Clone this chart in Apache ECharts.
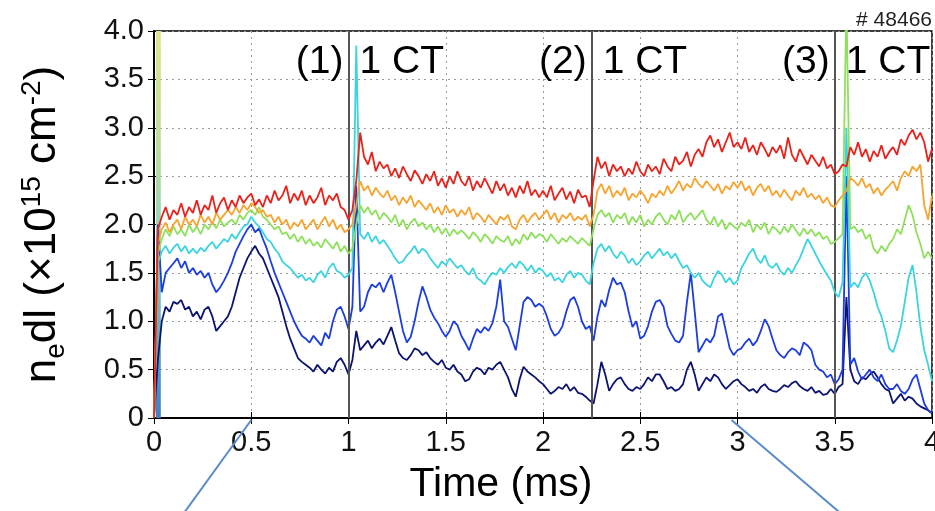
<!DOCTYPE html>
<html><head><meta charset="utf-8">
<script src="https://cdn.jsdelivr.net/npm/echarts@6/dist/echarts.min.js"></script>
<style>html,body{margin:0;padding:0;background:#fff}#c{width:935px;height:511px}</style>
</head><body><div id="c"></div>
<script>
// ---- data ----
const xTicks = [0, 0.5, 1, 1.5, 2, 2.5, 3, 3.5, 4];
const yTicks = [0, 0.5, 1.0, 1.5, 2.0, 2.5, 3.0, 3.5, 4.0];
const shotLabel = '# 48466';
const eventTimes = [1.0, 2.25, 3.5];
const eventNums = ['(1)', '(2)', '(3)'];
const eventText = '1 CT';
const startBand = [0.01, 0.035];
const seriesNames = ['ch1', 'ch2', 'ch3', 'ch4', 'ch5', 'ch6'];

const time = [
0,0.02,0.04,0.06,0.08,0.1,0.12,0.14,0.16,0.18,
0.2,0.22,0.24,0.26,0.28,0.3,0.32,0.34,0.36,0.38,
0.4,0.42,0.44,0.46,0.48,0.5,0.52,0.54,0.56,0.58,
0.6,0.62,0.64,0.66,0.68,0.7,0.72,0.74,0.76,0.78,
0.8,0.82,0.84,0.86,0.88,0.9,0.92,0.94,0.96,0.98,
1,1.02,1.04,1.06,1.08,1.1,1.12,1.14,1.16,1.18,
1.2,1.22,1.24,1.26,1.28,1.3,1.32,1.34,1.36,1.38,
1.4,1.42,1.44,1.46,1.48,1.5,1.52,1.54,1.56,1.58,
1.6,1.62,1.64,1.66,1.68,1.7,1.72,1.74,1.76,1.78,
1.8,1.82,1.84,1.86,1.88,1.9,1.92,1.94,1.96,1.98,
2,2.02,2.04,2.06,2.08,2.1,2.12,2.14,2.16,2.18,
2.2,2.22,2.24,2.26,2.28,2.3,2.32,2.34,2.36,2.38,
2.4,2.42,2.44,2.46,2.48,2.5,2.52,2.54,2.56,2.58,
2.6,2.62,2.64,2.66,2.68,2.7,2.72,2.74,2.76,2.78,
2.8,2.82,2.84,2.86,2.88,2.9,2.92,2.94,2.96,2.98,
3,3.02,3.04,3.06,3.08,3.1,3.12,3.14,3.16,3.18,
3.2,3.22,3.24,3.26,3.28,3.3,3.32,3.34,3.36,3.38,
3.4,3.42,3.44,3.46,3.48,3.5,3.52,3.54,3.56,3.58,
3.6,3.62,3.64,3.66,3.68,3.7,3.72,3.74,3.76,3.78,
3.8,3.82,3.84,3.86,3.88,3.9,3.92,3.94,3.96,3.98,
4
];

const navy = [
0.0,0.6,1.0,1.15,1.1,1.2,1.18,1.22,1.12,1.15,
1.05,1.1,1.02,1.12,1.15,1.05,0.9,0.95,1.0,1.05,
1.15,1.3,1.45,1.55,1.65,1.72,1.78,1.7,1.65,1.55,
1.45,1.35,1.25,1.1,0.95,0.82,0.72,0.62,0.58,0.55,
0.52,0.48,0.55,0.5,0.46,0.52,0.48,0.58,0.62,0.55,
0.45,0.6,0.9,0.7,0.75,0.8,0.72,0.78,0.82,0.76,
0.85,0.94,0.8,0.67,0.62,0.6,0.65,0.72,0.7,0.65,
0.68,0.62,0.58,0.55,0.6,0.52,0.5,0.55,0.48,0.45,
0.38,0.4,0.48,0.52,0.5,0.45,0.52,0.5,0.55,0.58,
0.5,0.42,0.3,0.22,0.4,0.53,0.48,0.45,0.42,0.38,
0.35,0.3,0.25,0.28,0.32,0.3,0.35,0.28,0.32,0.26,
0.25,0.22,0.18,0.15,0.35,0.58,0.45,0.28,0.35,0.4,
0.42,0.35,0.3,0.28,0.32,0.3,0.35,0.42,0.38,0.45,
0.45,0.38,0.3,0.32,0.28,0.3,0.35,0.5,0.58,0.45,
0.28,0.35,0.42,0.38,0.45,0.42,0.35,0.3,0.34,0.38,
0.4,0.35,0.32,0.28,0.3,0.26,0.32,0.35,0.3,0.28,
0.27,0.3,0.34,0.32,0.36,0.38,0.33,0.3,0.28,0.32,
0.26,0.28,0.24,0.25,0.3,0.25,0.32,0.35,1.25,0.5,
0.38,0.35,0.42,0.4,0.45,0.48,0.42,0.35,0.3,0.28,
0.15,0.2,0.25,0.18,0.22,0.2,0.15,0.12,0.1,0.08,
0.05
];

const blue = [
0.0,2.0,1.3,1.5,1.55,1.6,1.65,1.55,1.62,1.5,
1.55,1.48,1.52,1.45,1.5,1.38,1.3,1.35,1.42,1.5,
1.6,1.72,1.8,1.88,1.95,2.0,1.92,1.96,1.85,1.75,
1.62,1.5,1.4,1.3,1.2,1.1,1.0,0.92,0.85,0.82,
0.78,0.85,0.8,0.75,0.88,0.82,1.0,1.12,1.15,1.05,
0.92,1.15,2.4,1.1,1.15,1.3,1.38,1.35,1.4,1.3,
1.4,1.48,1.3,1.1,0.9,0.78,0.84,1.0,1.2,1.36,
1.25,1.12,1.04,0.98,0.9,0.84,0.9,1.0,0.96,0.85,
0.78,0.7,0.82,0.92,0.88,0.94,0.9,0.98,1.15,1.43,
1.0,0.94,0.82,0.7,0.95,1.2,1.25,1.22,1.15,1.18,
1.15,1.05,0.92,0.85,0.88,0.95,1.1,1.22,1.25,1.15,
1.0,0.92,0.95,0.8,1.05,1.22,1.15,1.32,1.45,1.38,
1.4,1.3,1.1,0.94,1.0,0.82,0.85,0.95,1.1,1.2,
1.22,1.15,0.95,0.87,0.8,0.78,0.85,1.2,1.5,1.1,
0.68,0.75,0.82,0.78,0.85,1.05,1.08,0.9,0.72,0.65,
0.7,0.72,0.78,0.82,0.75,0.8,0.9,1.02,0.95,0.82,
0.7,0.65,0.62,0.68,0.72,0.7,0.65,0.78,0.75,0.7,
0.55,0.5,0.48,0.42,0.45,0.35,0.4,0.5,2.5,0.55,
0.62,0.48,0.4,0.45,0.5,0.42,0.38,0.45,0.35,0.3,
0.3,0.35,0.28,0.25,0.3,0.4,0.45,0.3,0.15,0.08,
0.05
];

const cyan = [
0.0,1.6,1.72,1.78,1.7,1.76,1.8,1.72,1.78,1.7,
1.75,1.7,1.76,1.72,1.78,1.82,1.75,1.8,1.85,1.82,
1.9,1.85,1.92,1.98,2.0,2.08,2.02,1.98,1.92,1.85,
1.82,1.75,1.7,1.62,1.58,1.55,1.5,1.45,1.48,1.42,
1.45,1.4,1.48,1.52,1.45,1.55,1.6,1.52,1.5,1.45,
1.48,1.55,3.85,1.9,1.85,1.92,1.82,1.88,1.8,1.84,
1.78,1.72,1.65,1.6,1.62,1.68,1.72,1.78,1.7,1.75,
1.72,1.65,1.6,1.55,1.62,1.58,1.65,1.6,1.55,1.58,
1.52,1.48,1.55,1.45,1.42,1.38,1.45,1.5,1.48,1.55,
1.5,1.56,1.6,1.55,1.62,1.58,1.52,1.58,1.5,1.55,
1.52,1.46,1.5,1.42,1.45,1.4,1.48,1.52,1.45,1.5,
1.48,1.42,1.38,1.6,1.75,1.8,1.72,1.78,1.7,1.65,
1.72,1.68,1.6,1.65,1.58,1.62,1.68,1.72,1.65,1.7,
1.75,1.68,1.72,1.65,1.7,1.62,1.55,1.58,1.5,1.45,
1.5,1.42,1.38,1.35,1.45,1.52,1.48,1.4,1.45,1.38,
1.42,1.55,1.62,1.7,1.75,1.65,1.6,1.68,1.58,1.55,
1.6,1.52,1.48,1.55,1.5,1.58,1.65,1.75,1.85,1.78,
1.7,1.62,1.55,1.48,1.42,1.3,1.25,1.4,3.0,1.35,
1.4,1.35,1.45,1.5,1.42,1.3,1.15,1.05,0.9,0.72,
0.68,0.8,0.95,1.2,1.45,1.58,1.3,0.95,0.7,0.55,
0.38
];

const green = [
0.0,1.7,1.85,1.95,1.88,1.98,1.9,1.95,1.88,2.0,
1.92,1.98,1.9,2.0,1.95,2.02,1.96,2.05,1.98,2.02,
2.05,2.0,2.1,2.05,2.12,2.15,2.1,2.18,2.08,2.05,
2.0,1.95,1.98,1.9,1.92,1.85,1.9,1.82,1.88,1.8,
1.85,1.78,1.82,1.76,1.85,1.8,1.75,1.82,1.72,1.78,
1.7,1.75,2.0,2.2,2.12,2.18,2.1,2.15,2.05,2.12,
2.08,2.02,2.1,1.98,2.05,1.95,2.02,2.06,1.98,2.02,
1.95,2.0,1.92,1.98,1.9,1.96,1.88,1.95,1.9,1.94,
1.9,1.85,1.92,1.88,1.82,1.9,1.86,1.8,1.88,1.84,
1.82,1.88,1.78,1.85,1.8,1.9,1.84,1.92,1.86,1.9,
1.88,1.82,1.9,1.85,1.8,1.86,1.82,1.88,1.84,1.8,
1.86,1.82,1.78,1.95,2.1,2.15,2.08,2.12,2.02,2.1,
2.06,2.12,2.0,2.08,2.02,2.1,1.98,2.05,2.0,2.08,
2.12,2.05,2.0,2.1,2.05,2.15,2.02,2.08,2.12,2.05,
2.1,2.15,2.05,2.0,2.08,1.98,2.05,1.95,2.02,1.98,
1.95,2.02,1.98,2.05,1.92,2.0,1.95,2.02,1.9,1.98,
1.95,1.9,1.98,1.92,2.0,1.94,1.88,1.96,1.9,1.95,
1.88,1.92,1.85,1.88,1.8,1.82,1.86,1.9,4.3,1.95,
1.98,1.92,1.95,1.85,1.9,1.75,1.7,1.78,1.72,1.8,
1.85,1.95,1.9,2.05,2.2,2.1,1.92,1.8,1.65,1.72,
1.65
];

const orange = [
0.0,1.8,1.95,2.02,1.92,2.0,2.05,1.95,2.08,2.0,
2.05,1.98,2.1,2.02,2.08,2.0,2.12,2.05,2.1,2.15,
2.1,2.18,2.12,2.2,2.15,2.22,2.18,2.12,2.15,2.08,
2.1,2.02,2.08,2.0,2.05,1.95,2.02,1.98,2.05,1.95,
2.0,2.05,1.95,2.02,2.08,1.98,2.05,1.95,2.0,1.92,
1.95,2.0,2.2,2.45,2.35,2.4,2.3,2.38,2.32,2.28,
2.35,2.25,2.3,2.2,2.28,2.22,2.3,2.18,2.25,2.2,
2.15,2.22,2.12,2.18,2.1,2.2,2.12,2.16,2.08,2.15,
2.1,2.18,2.05,2.12,2.08,2.02,2.1,2.05,2.0,2.08,
2.05,2.1,1.98,1.95,2.05,2.1,2.02,2.08,2.12,2.05,
2.1,2.15,2.05,2.12,2.02,2.1,2.06,2.12,2.04,2.08,
2.05,2.1,1.98,2.1,2.35,2.42,2.32,2.4,2.28,2.35,
2.3,2.38,2.25,2.32,2.28,2.35,2.3,2.22,2.32,2.28,
2.35,2.3,2.4,2.32,2.38,2.45,2.35,2.42,2.38,2.48,
2.42,2.38,2.45,2.4,2.35,2.42,2.32,2.4,2.36,2.44,
2.38,2.45,2.35,2.4,2.3,2.38,2.42,2.34,2.4,2.3,
2.35,2.28,2.36,2.3,2.25,2.35,2.3,2.38,2.28,2.32,
2.26,2.3,2.22,2.28,2.2,2.18,2.25,2.3,2.35,2.48,
2.45,2.4,2.48,2.38,2.42,2.32,2.38,2.3,2.36,2.4,
2.45,2.35,2.48,2.55,2.5,2.6,2.55,2.62,2.2,2.05,
2.3
];

const red = [
0.0,1.95,2.08,2.18,2.05,2.15,2.1,2.22,2.08,2.18,
2.12,2.25,2.1,2.2,2.15,2.3,2.12,2.22,2.28,2.15,
2.25,2.18,2.3,2.22,2.28,2.32,2.2,2.26,2.18,2.3,
2.22,2.35,2.25,2.3,2.4,2.22,2.32,2.25,2.35,2.2,
2.3,2.22,2.28,2.38,2.2,2.3,2.25,2.32,2.18,2.15,
2.05,2.15,2.45,2.95,2.7,2.62,2.75,2.55,2.65,2.58,
2.62,2.5,2.58,2.48,2.6,2.52,2.45,2.56,2.5,2.42,
2.52,2.45,2.55,2.4,2.48,2.38,2.5,2.42,2.55,2.45,
2.4,2.5,2.35,2.45,2.38,2.48,2.4,2.32,2.45,2.35,
2.42,2.3,2.38,2.28,2.4,2.32,2.45,2.3,2.36,2.28,
2.35,2.28,2.4,2.25,2.32,2.38,2.26,2.34,2.22,2.36,
2.28,2.3,2.18,2.45,2.7,2.58,2.65,2.5,2.62,2.55,
2.6,2.5,2.58,2.52,2.65,2.55,2.5,2.62,2.55,2.6,
2.52,2.68,2.6,2.55,2.7,2.62,2.66,2.75,2.6,2.72,
2.78,2.7,2.85,2.92,2.8,2.88,2.75,2.85,2.95,2.8,
2.85,2.78,2.9,2.75,2.82,2.72,2.85,2.78,2.7,2.8,
2.74,2.82,2.68,2.9,2.72,2.65,2.78,2.7,2.62,2.72,
2.66,2.6,2.7,2.58,2.62,2.52,2.55,2.62,2.6,2.8,
2.72,2.85,2.7,2.78,2.65,2.76,2.7,2.82,2.68,2.75,
2.8,2.72,2.88,2.82,2.92,2.98,2.88,2.95,2.85,2.65,
2.78
];

const seriesValues = [navy, blue, cyan, green, orange, red];
const seriesColors = ['#0c1470', '#1c3ede', '#3cd4de', '#8fe05c', '#f5a530', '#e8231b'];

// ---- chart ----
const FONT = '"Liberation Sans", Arial, Helvetica, sans-serif';
const chart = echarts.init(document.getElementById('c'), null, { renderer: 'canvas' });

const gridLine = { show: true, lineStyle: { color: '#9a9a9a', type: [2, 4], width: 1 } };
const series = seriesValues.map((vals, k) => ({
  name: seriesNames[k],
  type: 'line',
  data: time.map((t, i) => [t, vals[i]]),
  showSymbol: false,
  symbol: 'none',
  clip: true,
  lineStyle: { color: seriesColors[k], width: 1.8 },
  z: 3 + k,
  animation: false
}));

series[0].markLine = {
  silent: true, symbol: ['none', 'none'], animation: false,
  label: { show: false },
  lineStyle: { color: '#555', width: 2, type: 'solid' },
  data: eventTimes.map(t => ({ xAxis: t }))
};
series.push({
  type: 'line', data: [], z: 20, animation: false,
  markArea: {
    silent: true, animation: false,
    itemStyle: {
      color: new echarts.graphic.LinearGradient(0, 0, 0, 1, [
        { offset: 0, color: '#dfe58a' },
        { offset: 0.35, color: '#b4dca0' },
        { offset: 0.6, color: '#86cfc8' },
        { offset: 1, color: '#3f7fc6' }
      ])
    },
    data: [[{ xAxis: startBand[0], yAxis: 0 }, { xAxis: startBand[1], yAxis: 4 }]]
  }
});

const axisCommon = {
  axisLine: { show: true, lineStyle: { color: '#000', width: 1.5 } },
  axisTick: { show: true, inside: true, length: 6, lineStyle: { color: '#000' } }
};

const option = {
  animation: false,
  backgroundColor: '#fff',
  grid: { left: 154, right: 3, top: 31, bottom: 93, containLabel: false, outerBoundsMode: 'none',
          show: true, borderColor: '#000', borderWidth: 1.5, backgroundColor: 'transparent' },
  xAxis: [Object.assign({
    type: 'value', min: 0, max: 4, interval: 0.5,
    axisLabel: { color: '#111', fontSize: 29, fontFamily: FONT, margin: 10,
                 formatter: v => String(v) },
    splitLine: gridLine,
    name: 'Time (ms)', nameLocation: 'middle', nameGap: 46,
    nameTextStyle: { color: '#000', fontSize: 41, fontFamily: FONT, padding: [0, 84, 0, 0] }
  }, axisCommon), Object.assign({
    type: 'value', min: 0, max: 4, interval: 0.5, position: 'top',
    axisLabel: { show: false }, splitLine: { show: false }
  }, axisCommon)],
  yAxis: [Object.assign({
    type: 'value', min: 0, max: 4, interval: 0.5,
    axisLabel: { color: '#111', fontSize: 29, fontFamily: FONT, margin: 10,
                 formatter: v => (v === 0 ? '0' : v.toFixed(1)) },
    splitLine: gridLine,
    name: '{m|n}{sub|e}{m|dl (×10}{sup|15}{m| cm}{sup|-2}{m|)}',
    nameLocation: 'middle', nameGap: 86, nameRotate: 90,
    nameTextStyle: {
      color: '#000', fontFamily: FONT,
      rich: {
        m: { fontSize: 44, fontFamily: FONT, color: '#000', lineHeight: 50, verticalAlign: 'middle' },
        sub: { fontSize: 28, fontFamily: FONT, color: '#000', lineHeight: 50, verticalAlign: 'bottom', padding: [0, 0, -2, 0] },
        sup: { fontSize: 28, fontFamily: FONT, color: '#000', lineHeight: 50, verticalAlign: 'top' }
      }
    }
  }, axisCommon), Object.assign({
    type: 'value', min: 0, max: 4, interval: 0.5, position: 'right',
    axisLabel: { show: false }, splitLine: { show: false }
  }, axisCommon)],
  series: series
};
chart.setOption(option);

// annotations positioned through the axes
function px(t, v) { return chart.convertToPixel({ gridIndex: 0 }, [t, v]); }
const graphics = [];
const topY = px(0, 4)[1];
eventTimes.forEach((t, i) => {
  const p = px(t, 4);
  graphics.push({ type: 'text', z: 50, style: { text: eventNums[i], x: p[0] - 5, y: topY + 31,
    align: 'right', verticalAlign: 'middle', fontSize: 39, fontFamily: FONT, fill: '#000' } });
  graphics.push({ type: 'text', z: 50, style: { text: eventText, x: p[0] + 11, y: topY + 31,
    align: 'left', verticalAlign: 'middle', fontSize: 39, fontFamily: FONT, fill: '#000' } });
});
const pr = px(4, 4);
graphics.push({ type: 'text', z: 50, style: { text: shotLabel, x: pr[0], y: pr[1] - 11,
  align: 'right', verticalAlign: 'middle', fontSize: 21, fontFamily: FONT, fill: '#222' } });
const a = px(0.5, 0), b = px(3, 0);
graphics.push({ type: 'line', z: 50, shape: { x1: a[0], y1: a[1] + 2, x2: a[0] - 68, y2: a[1] + 96 },
  style: { stroke: '#5b8bc9', lineWidth: 2 } });
graphics.push({ type: 'line', z: 50, shape: { x1: b[0] - 6, y1: b[1] + 2, x2: b[0] + 104, y2: b[1] + 96 },
  style: { stroke: '#5b8bc9', lineWidth: 2 } });
chart.setOption({ graphic: graphics });
</script>
</body></html>
